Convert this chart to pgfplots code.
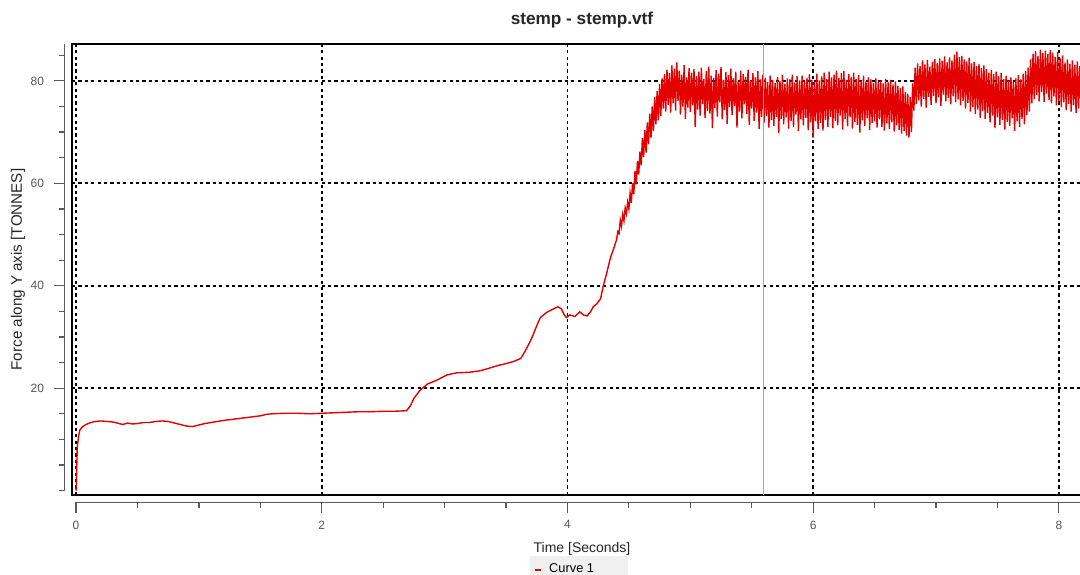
\documentclass[border=0pt]{standalone}
\usepackage{fontspec}
\setmainfont{Liberation Sans}
\usepackage{pgfplots}
\pgfplotsset{compat=1.18}

\definecolor{curvered}{RGB}{226,0,0}
\definecolor{ticktext}{RGB}{85,85,85}
\definecolor{tickline}{RGB}{90,90,90}

\begin{document}
\begin{tikzpicture}
\begin{axis}[
  name=ax,
  scale only axis,
  width=510pt, height=225.5pt,
  xmin=-0.033, xmax=8.27,
  ymin=-0.86, ymax=87.2,
  xtick={0,2,4,6,8},
  ytick={20,40,60,80},
  minor xtick={0.5,1,...,8},
  minor ytick={0,5,...,85},
  tick align=outside,
  major tick length=5.5pt,
  minor tick length=3pt,
  x tick style={yshift=-3.5pt, tickline, line width=0.6pt},
  y tick style={xshift=-3.5pt, tickline, line width=0.6pt},
  xtick pos=bottom, ytick pos=left,
  /pgf/number format/assume math mode=true,
  tick label style={font=\fontsize{6}{7}\selectfont, text=ticktext},
  xticklabel shift=3.8pt,
  yticklabel shift=5pt,
  grid=major,
  major grid style={black, line width=0.9pt, dash pattern=on 1.6pt off 1.6pt},
  axis line style={black, line width=1pt},
  clip mode=individual,
  title={stemp - stemp.vtf},
  xlabel={Time [Seconds]},
  ylabel={Force along Y axis [TONNES]},
  every axis title/.style={at={(axis description cs:0.5,1)}, yshift=12pt, anchor=center,
    font=\bfseries\fontsize{8.6}{10}\selectfont, text=black!85},
  every axis x label/.style={at={(axis description cs:0.5,0)}, yshift=-27pt, anchor=center,
    font=\fontsize{7}{8}\selectfont, text=black!85},
  every axis y label/.style={at={(axis description cs:0,0.5)}, xshift=-27pt, rotate=90, anchor=center,
    font=\fontsize{7.6}{9}\selectfont, text=black!85},
  legend style={at={(0.497,-0.134)}, anchor=north, draw=none, fill=black!6,
    font=\fontsize{6.4}{7}\selectfont, inner xsep=2pt, inner ysep=2pt},
  legend image code/.code={\draw[curvered, line width=0.7pt] (0pt,0pt) -- (3pt,0pt);},
]
\addplot[curvered, line width=0.7pt] coordinates {
(0,0) (0.005,4) (0.01,8.5) (0.02,10.5) (0.03,11.8) (0.05,12.4) (0.08,12.9) (0.12,13.3)
(0.16,13.5) (0.2,13.6) (0.25,13.5) (0.3,13.4) (0.35,13.1) (0.38,12.9) (0.42,13.2) (0.46,13.0)
(0.5,13.1) (0.55,13.3) (0.6,13.3) (0.65,13.5) (0.7,13.6) (0.75,13.5) (0.8,13.2) (0.85,12.9)
(0.9,12.6) (0.95,12.5) (1.0,12.8) (1.05,13.1) (1.1,13.3) (1.15,13.5) (1.2,13.7) (1.3,14.0)
(1.4,14.3) (1.5,14.6) (1.55,14.9) (1.6,15.0) (1.7,15.1) (1.8,15.1) (1.9,15.0) (2.0,15.1)
(2.1,15.2) (2.2,15.3) (2.3,15.4) (2.4,15.4) (2.5,15.5) (2.6,15.5) (2.69,15.6) (2.72,16.5)
(2.75,18.0) (2.8,19.6) (2.86,20.8) (2.94,21.6) (3.02,22.6) (3.1,23.0) (3.2,23.1) (3.29,23.4)
(3.35,23.8) (3.43,24.4) (3.5,24.8) (3.56,25.2) (3.62,25.8) (3.65,27.0) (3.69,28.8) (3.72,30.4)
(3.75,32.2) (3.78,33.8) (3.83,34.8) (3.88,35.4) (3.92,35.9) (3.95,35.5) (3.97,34.5) (3.99,33.8)
(4.02,34.3) (4.06,34.0) (4.1,34.9) (4.13,34.3) (4.16,34.1) (4.19,35.0) (4.21,35.9) (4.24,36.5)
(4.27,37.5) (4.29,39.8) (4.32,42.5) (4.35,45.5) (4.38,47.5)
(4.40,49.0) (4.41,50.6) (4.42,50.2) (4.43,52.8) (4.44,51.6) (4.45,53.9) (4.46,52.7) (4.47,55.2) (4.48,54.1) (4.49,56.3)
(4.50,55.0) (4.51,58.1) (4.52,56.2) (4.53,60.0) (4.54,57.9) (4.55,62.4) (4.56,59.8) (4.57,64.3) (4.58,61.7) (4.59,66.2)
(4.60,63.5) (4.61,68.8) (4.62,65.1) (4.63,70.4) (4.64,66.0) (4.65,71.9) (4.66,67.6) (4.67,73.6) (4.68,68.9) (4.69,75.0)
(4.70,70.2) (4.71,76.8) (4.72,71.5) (4.73,78.0) (4.74,72.3) (4.75,79.4) (4.76,73.1) (4.77,80.5) (4.78,74.6) (4.79,81.3)
(4.80,74.0) (4.81,82.2) (4.82,75.3) (4.83,81.5) (4.84,73.8) (4.85,83.0) (4.86,75.6) (4.87,82.4) (4.88,74.2) (4.89,83.6)
(4.90,76.1) (4.91,82.0) (4.92,73.4) (4.93,81.2) (4.94,75.0) (4.95,83.1) (4.96,72.6) (4.97,80.7) (4.98,74.8) (4.99,82.5)
(5.00,73.9) (5.01,81.6) (5.02,75.2) (5.03,82.3) (5.04,71.0) (5.05,80.9) (5.06,74.4) (5.07,81.8) (5.08,73.2) (5.09,82.6)
(5.10,75.5) (5.11,80.4) (5.12,72.8) (5.13,81.9) (5.14,74.1) (5.15,82.8) (5.16,73.6) (5.17,81.0) (5.18,70.8) (5.19,80.6)
(5.20,74.7) (5.21,82.1) (5.22,73.0) (5.23,81.4) (5.24,75.8) (5.25,82.7) (5.26,72.5) (5.27,80.2) (5.28,74.3) (5.29,81.7)
(5.30,71.6) (5.31,81.1) (5.32,74.9) (5.33,82.4) (5.34,73.3) (5.35,80.5) (5.36,75.1) (5.37,81.8) (5.38,70.9) (5.39,79.9)
(5.40,74.0) (5.41,82.0) (5.42,72.7) (5.43,81.3) (5.44,75.4) (5.45,80.8) (5.46,73.5) (5.47,82.2) (5.48,71.4) (5.49,80.1)
(5.50,74.6) (5.51,81.5) (5.52,72.2) (5.53,80.7) (5.54,73.8) (5.55,81.9) (5.56,70.6) (5.57,80.3) (5.58,73.0) (5.59,81.2)
(5.60,71.8) (5.61,80.6) (5.62,73.1) (5.63,79.8) (5.64,70.9) (5.65,81.0) (5.66,72.4) (5.67,80.2) (5.68,71.2) (5.69,79.6)
(5.70,73.0) (5.71,80.8) (5.72,69.8) (5.73,80.0) (5.74,72.6) (5.75,81.1) (5.76,71.5) (5.77,79.4) (5.78,72.9) (5.79,80.5)
(5.80,70.7) (5.81,80.3) (5.82,72.2) (5.83,81.2) (5.84,71.0) (5.85,79.7) (5.86,73.4) (5.87,80.9) (5.88,70.2) (5.89,80.1)
(5.90,72.5) (5.91,81.0) (5.92,71.3) (5.93,79.9) (5.94,72.8) (5.95,80.6) (5.96,70.4) (5.97,81.3) (5.98,71.9) (5.99,80.2)
(6.00,68.9) (6.01,79.8) (6.02,72.1) (6.03,81.4) (6.04,70.6) (6.05,80.1) (6.06,71.8) (6.07,80.9) (6.08,70.3) (6.09,81.6)
(6.10,72.4) (6.11,80.4) (6.12,71.0) (6.13,81.8) (6.14,73.0) (6.15,80.7) (6.16,70.8) (6.17,81.2) (6.18,72.2) (6.19,82.0)
(6.20,71.3) (6.21,80.6) (6.22,73.2) (6.23,81.5) (6.24,70.5) (6.25,81.9) (6.26,72.6) (6.27,80.2) (6.28,71.1) (6.29,81.3)
(6.30,72.9) (6.31,80.8) (6.32,70.7) (6.33,81.6) (6.34,72.0) (6.35,80.4) (6.36,71.4) (6.37,81.1) (6.38,69.9) (6.39,80.0)
(6.40,72.3) (6.41,81.0) (6.42,71.2) (6.43,79.9) (6.44,72.7) (6.45,80.7) (6.46,70.4) (6.47,80.3) (6.48,71.8) (6.49,79.6)
(6.50,72.1) (6.51,80.5) (6.52,70.9) (6.53,79.8) (6.54,72.5) (6.55,80.1) (6.56,71.0) (6.57,79.5) (6.58,70.3) (6.59,80.4)
(6.60,71.7) (6.61,79.7) (6.62,70.6) (6.63,80.2) (6.64,71.9) (6.65,79.3) (6.66,70.1) (6.67,79.9) (6.68,71.3) (6.69,79.0)
(6.70,70.4) (6.71,78.6) (6.72,69.7) (6.73,78.9) (6.74,70.2) (6.75,77.8) (6.76,69.3) (6.77,77.5) (6.78,68.9) (6.79,76.8)
(6.80,70.0) (6.81,79.5) (6.82,74.2) (6.83,82.6) (6.84,75.5) (6.85,83.4) (6.86,76.2) (6.87,82.9) (6.88,75.0) (6.89,84.0)
(6.90,76.5) (6.91,83.2) (6.92,74.8) (6.93,84.1) (6.94,76.9) (6.95,82.8) (6.96,75.3) (6.97,83.7) (6.98,77.1) (6.99,84.3)
(7.00,75.6) (7.01,83.5) (7.02,76.8) (7.03,84.4) (7.04,75.1) (7.05,83.9) (7.06,77.3) (7.07,84.8) (7.08,76.0) (7.09,83.6)
(7.10,76.7) (7.11,84.6) (7.12,75.4) (7.13,84.0) (7.14,77.0) (7.15,85.1) (7.16,75.9) (7.17,85.7) (7.18,76.4) (7.19,84.7)
(7.20,75.2) (7.21,84.9) (7.22,76.1) (7.23,84.2) (7.24,74.6) (7.25,83.8) (7.26,75.7) (7.27,84.5) (7.28,74.0) (7.29,83.4)
(7.30,74.9) (7.31,83.7) (7.32,73.5) (7.33,82.9) (7.34,74.4) (7.35,83.3) (7.36,72.8) (7.37,82.5) (7.38,74.1) (7.39,83.0)
(7.40,72.6) (7.41,82.3) (7.42,73.7) (7.43,81.6) (7.44,71.9) (7.45,82.1) (7.46,73.2) (7.47,81.3) (7.48,70.8) (7.49,81.8)
(7.50,72.9) (7.51,80.9) (7.52,71.4) (7.53,81.5) (7.54,72.4) (7.55,80.4) (7.56,70.5) (7.57,81.0) (7.58,72.0) (7.59,80.1)
(7.60,71.2) (7.61,80.7) (7.62,72.7) (7.63,79.8) (7.64,70.2) (7.65,80.5) (7.66,72.1) (7.67,81.1) (7.68,71.0) (7.69,80.3)
(7.70,72.6) (7.71,81.4) (7.72,71.5) (7.73,81.9) (7.74,73.3) (7.75,82.6) (7.76,74.0) (7.77,84.2) (7.78,75.6) (7.79,85.3)
(7.80,76.4) (7.81,85.8) (7.82,77.2) (7.83,84.9) (7.84,76.0) (7.85,86.1) (7.86,77.8) (7.87,85.4) (7.88,75.9) (7.89,85.9)
(7.90,77.5) (7.91,85.2) (7.92,76.3) (7.93,86.0) (7.94,75.6) (7.95,85.5) (7.96,77.0) (7.97,84.7) (7.98,75.2) (7.99,85.6)
(8.00,76.1) (8.01,84.4) (8.02,74.9) (8.03,85.0) (8.04,75.8) (8.05,83.6) (8.06,74.3) (8.07,84.2) (8.08,75.5) (8.09,83.3)
(8.10,74.0) (8.11,84.0) (8.12,75.2) (8.13,83.1) (8.14,73.7) (8.15,83.8) (8.16,74.6) (8.17,82.9) (8.18,75.0) (8.19,83.5)
(8.20,74.4) (8.21,83.2) (8.22,75.3) (8.23,84.1) (8.24,73.9) (8.25,83.0) (8.26,74.8) (8.27,83.7) (8.28,75.1)
};
\addlegendentry{\kern2pt Curve 1\kern13pt}
% cursor line
\draw[black!35, line width=0.5pt] (axis cs:5.594,-0.86) -- (axis cs:5.594,87.2);
% separate tick baselines
\draw[tickline, line width=0.5pt] ([xshift=-3.5pt]axis cs:-0.033,0) -- ([xshift=-3.5pt]axis cs:-0.033,87.2);
\draw[tickline, line width=0.5pt] ([yshift=-3.5pt]axis cs:0,-0.86) -- ([yshift=-3.5pt]axis cs:8.27,-0.86);
\end{axis}
\pgfresetboundingbox
\path ([xshift=-36pt,yshift=-39.5pt]ax.south west) rectangle ([xshift=504pt,yshift=247.5pt]ax.south west);
\end{tikzpicture}
\end{document}
